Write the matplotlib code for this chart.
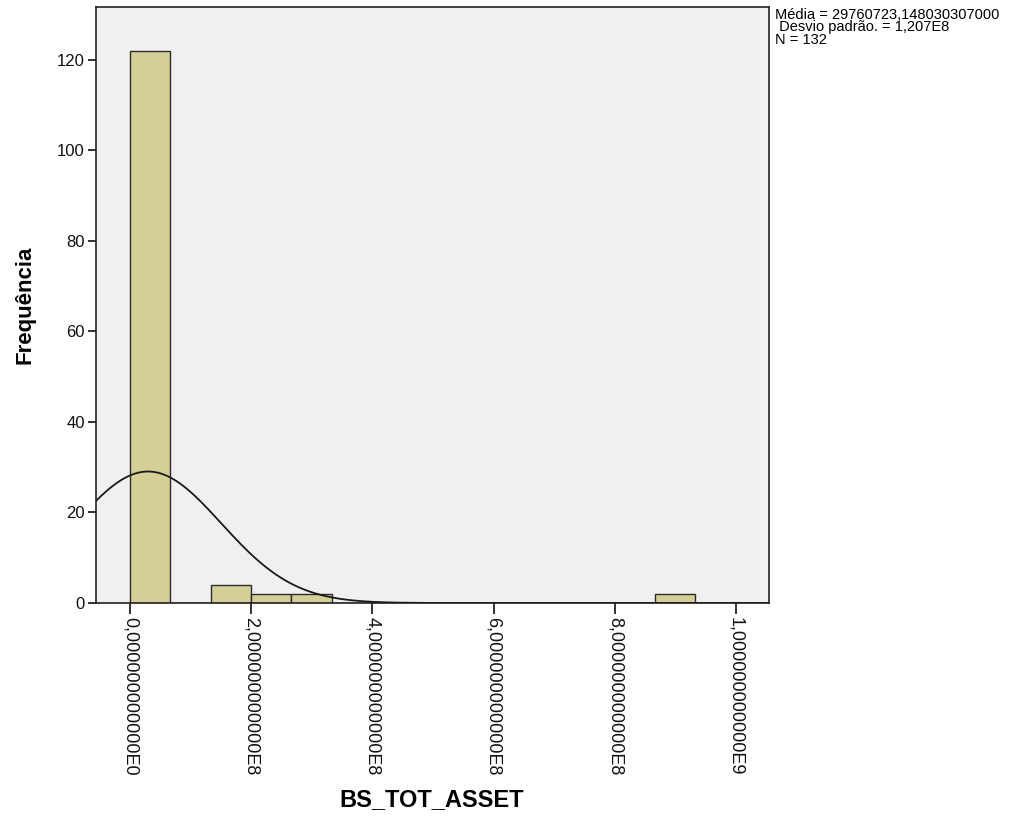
import numpy as np
import matplotlib
matplotlib.use('Agg')
import matplotlib.pyplot as plt

plt.rcParams['font.family'] = ['Liberation Sans', 'DejaVu Sans']

# histogram of BS_TOT_ASSET (counts per bin)
bin_start = 0.0
bin_width = 0.0666e9
bin_counts = [122, 0, 4, 2, 2, 0, 0, 0, 0, 0, 0, 0, 0, 2]

# stats shown in the box
media = 29760723.148030307
desvio = 1.207e8
n_obs = 132

xtick_vals = [0, 2e8, 4e8, 6e8, 8e8, 1e9]
xtick_labels = ['0,000000000000E0', '2,000000000000E8', '4,000000000000E8',
                '6,000000000000E8', '8,000000000000E8', '1,000000000000E9']
ytick_vals = [0, 20, 40, 60, 80, 100, 120]

fig = plt.figure(figsize=(10.16, 8.16), dpi=100)
ax = fig.add_axes([96/1016, 1-603/816, (769-96)/1016, (603-7)/816])
ax.set_facecolor('#F0F0F0')

edges = bin_start + bin_width*np.arange(len(bin_counts))
ax.bar(edges, bin_counts, width=bin_width, align='edge',
       color='#D4CF97', edgecolor='#2b2b2b', linewidth=1.0, zorder=2)

# normal curve scaled to counts
xlo, xhi = -0.0561e9, 1.0545e9
xs = np.linspace(xlo, xhi, 600)
ys = n_obs*bin_width/(desvio*np.sqrt(2*np.pi))*np.exp(-0.5*((xs-media)/desvio)**2)
ax.plot(xs, ys, color='#1a1a1a', linewidth=1.3, zorder=3)

ax.set_xlim(xlo, xhi)
ax.set_ylim(0, 131.7)

ax.set_xticks(xtick_vals)
ax.set_xticklabels(xtick_labels, rotation=-90, fontsize=13)
ax.set_yticks(ytick_vals)
ax.set_yticklabels([str(v) for v in ytick_vals], fontsize=12)
ax.tick_params(axis='x', direction='out', length=8, width=1.2, pad=2, colors='#111111')
ax.tick_params(axis='y', direction='out', length=6, width=1.2, pad=2, colors='#111111')

for s in ax.spines.values():
    s.set_color('#222222')
    s.set_linewidth(1.2)

fig.text(25/1016, 1-305/816, 'Frequência', fontsize=16, fontweight='bold',
         rotation=90, ha='center', va='center')
fig.text(432/1016, 1-800/816, 'BS_TOT_ASSET', fontsize=17, fontweight='bold',
         ha='center', va='center')

info = 'Média = 29760723,148030307000\n Desvio padrão. = 1,207E8\nN = 132'
fig.text(775/1016, 1-8/816, info, fontsize=10.5, ha='left', va='top', linespacing=0.85)

fig.savefig('out.png', dpi=100)
